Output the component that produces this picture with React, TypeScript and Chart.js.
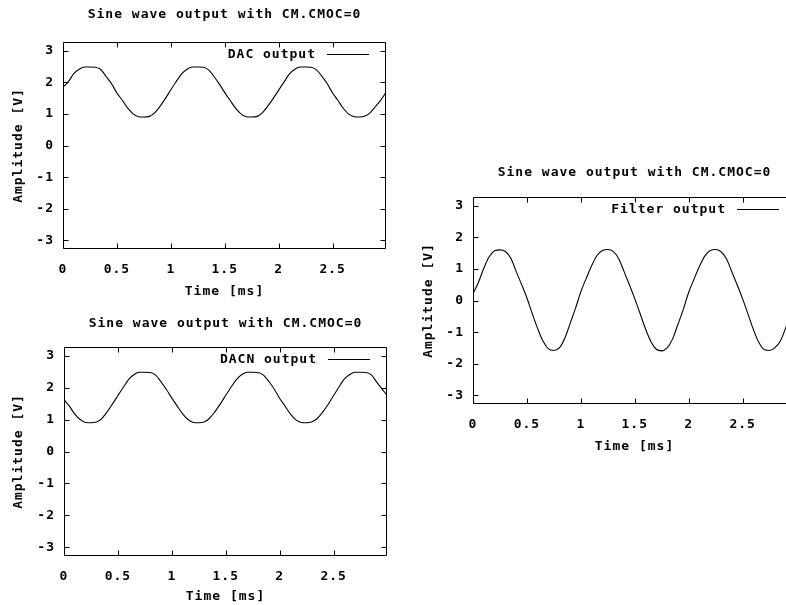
import React, { useEffect, useRef } from "react";
import { Chart, registerables } from "chart.js";

Chart.register(...registerables);

// ---------- data ----------
const TIME_MS = [
  0, 0.05, 0.1, 0.15, 0.2, 0.25, 0.3, 0.35, 0.4, 0.45,
  0.5, 0.55, 0.6, 0.65, 0.7, 0.75, 0.8, 0.85, 0.9, 0.95,
  1, 1.05, 1.1, 1.15, 1.2, 1.25, 1.3, 1.35, 1.4, 1.45,
  1.5, 1.55, 1.6, 1.65, 1.7, 1.75, 1.8, 1.85, 1.9, 1.95,
  2, 2.05, 2.1, 2.15, 2.2, 2.25, 2.3, 2.35, 2.4, 2.45,
  2.5, 2.55, 2.6, 2.65, 2.7, 2.75, 2.8, 2.85, 2.9, 2.95,
  2.995,
];

const DAC_OUTPUT = [
  1.84, 2.02, 2.27, 2.41, 2.48, 2.48, 2.47, 2.40, 2.18, 1.95,
  1.66, 1.43, 1.18, 1.00, 0.91, 0.90, 0.92, 1.03, 1.24, 1.49,
  1.76, 2.02, 2.26, 2.41, 2.48, 2.48, 2.47, 2.39, 2.18, 1.94,
  1.67, 1.42, 1.18, 1.00, 0.91, 0.90, 0.92, 1.04, 1.25, 1.49,
  1.75, 2.01, 2.26, 2.41, 2.48, 2.48, 2.47, 2.39, 2.19, 1.95,
  1.66, 1.42, 1.17, 0.99, 0.91, 0.90, 0.93, 1.04, 1.24, 1.45,
  1.68,
];

const DACN_OUTPUT = [
  1.62, 1.42, 1.17, 1.00, 0.91, 0.90, 0.92, 1.03, 1.24, 1.49,
  1.75, 2.01, 2.26, 2.41, 2.48, 2.48, 2.47, 2.39, 2.18, 1.94,
  1.67, 1.42, 1.18, 1.00, 0.91, 0.90, 0.92, 1.04, 1.25, 1.49,
  1.76, 2.02, 2.26, 2.41, 2.48, 2.48, 2.47, 2.39, 2.19, 1.95,
  1.66, 1.42, 1.17, 0.99, 0.91, 0.90, 0.93, 1.04, 1.24, 1.48,
  1.75, 2.02, 2.27, 2.41, 2.48, 2.48, 2.47, 2.40, 2.17, 1.95,
  1.76,
];

const FILTER_OUTPUT = [
  0.22, 0.57, 1.02, 1.38, 1.57, 1.60, 1.55, 1.34, 0.92, 0.51,
  0.08, -0.42, -0.89, -1.29, -1.53, -1.58, -1.50, -1.20, -0.73, -0.25,
  0.28, 0.70, 1.10, 1.42, 1.58, 1.61, 1.55, 1.33, 0.92, 0.50,
  0.06, -0.42, -0.90, -1.30, -1.54, -1.59, -1.50, -1.22, -0.76, -0.28,
  0.26, 0.68, 1.08, 1.41, 1.58, 1.61, 1.54, 1.32, 0.91, 0.49,
  0.05, -0.43, -0.92, -1.32, -1.55, -1.58, -1.49, -1.28, -0.86, -0.34,
  0.15,
];

const X_TICKS = [0, 0.5, 1, 1.5, 2, 2.5];
const Y_TICKS = [-3, -2, -1, 0, 1, 2, 3];
const X_RANGE = [0, 2.995];
const Y_RANGE = [-3.27, 3.27];

const CHART_TITLE = "Sine wave output with CM.CMOC=0";
const X_TITLE = "Time [ms]";
const Y_TITLE = "Amplitude [V]";
const LABEL_DAC = "DAC output";
const LABEL_DACN = "DACN output";
const LABEL_FILTER = "Filter output";

// ---------- styling ----------
const FAMILY = "'DejaVu Sans Mono', 'Liberation Mono', monospace";
const FONT = { family: FAMILY, size: 13, weight: "bold" as const };
const FONT_CSS = `bold 13px ${FAMILY}`;
const SPACING = "1px";

type Area = { l: number; t: number; r: number; b: number };

type PanelProps = {
  left: number;
  top: number;
  width: number;
  height: number;
  area: Area;
  titleY: number;
  label: string;
  values: number[];
};

function Panel({ left, top, width, height, area, titleY, label, values }: PanelProps) {
  const ref = useRef<HTMLCanvasElement | null>(null);

  useEffect(() => {
    const canvas = ref.current;
    if (!canvas) return;

    const gp = {
      id: "gnuplotLook",
      beforeUpdate(chart: any) {
        chart.ctx.letterSpacing = SPACING;
      },
      beforeLayout(chart: any) {
        chart.ctx.letterSpacing = SPACING;
      },
      beforeDraw(chart: any) {
        chart.ctx.letterSpacing = SPACING;
      },
      afterDraw(chart: any) {
        const ctx = chart.ctx as CanvasRenderingContext2D;
        const a = chart.chartArea;
        const xs = chart.scales.x;
        const ys = chart.scales.y;
        const L = Math.round(a.left) + 0.5;
        const R = Math.round(a.right) - 0.5;
        const T = Math.round(a.top) + 0.5;
        const B = Math.round(a.bottom) - 0.5;
        ctx.save();
        (ctx as any).letterSpacing = SPACING;
        ctx.strokeStyle = "#000";
        ctx.lineWidth = 1;
        ctx.beginPath();
        ctx.rect(L, T, R - L, B - T);
        const tl = 5;
        X_TICKS.forEach((v) => {
          const px = Math.round(xs.getPixelForValue(v)) + 0.5;
          ctx.moveTo(px, B);
          ctx.lineTo(px, B - tl);
          ctx.moveTo(px, T);
          ctx.lineTo(px, T + tl);
        });
        Y_TICKS.forEach((v) => {
          const py = Math.round(ys.getPixelForValue(v)) + 0.5;
          ctx.moveTo(L, py);
          ctx.lineTo(L + tl, py);
          ctx.moveTo(R, py);
          ctx.lineTo(R - tl, py);
        });
        ctx.stroke();

        // title
        ctx.fillStyle = "#000";
        ctx.font = FONT_CSS;
        ctx.textAlign = "center";
        ctx.textBaseline = "middle";
        ctx.fillText(CHART_TITLE, (a.left + a.right) / 2, titleY);

        // key (legend) inside top-right
        const ky = Math.round(a.top + 12) + 0.5;
        ctx.textAlign = "right";
        ctx.fillText(label, a.right - 70, ky);
        ctx.beginPath();
        ctx.moveTo(a.right - 59, ky);
        ctx.lineTo(a.right - 17, ky);
        ctx.strokeStyle = "#000";
        ctx.stroke();
        ctx.restore();
      },
    };

    const chart = new Chart(canvas, {
      type: "line",
      data: {
        datasets: [
          {
            label,
            data: TIME_MS.map((t, i) => ({ x: t, y: values[i] })),
            borderColor: "#000",
            borderWidth: 1.1,
            pointRadius: 0,
            fill: false,
            cubicInterpolationMode: "monotone",
          },
        ],
      },
      options: {
        animation: false,
        responsive: false,
        devicePixelRatio: 1,
        events: [],
        layout: {
          padding: { left: 0, top: area.t, right: width - area.r, bottom: 0 },
        },
        plugins: {
          legend: { display: false },
          tooltip: { enabled: false },
          title: { display: false },
        },
        scales: {
          x: {
            type: "linear",
            min: X_RANGE[0],
            max: X_RANGE[1],
            grid: { display: false, drawTicks: false },
            border: { display: false },
            afterBuildTicks: (s: any) => {
              s.ticks = X_TICKS.map((v) => ({ value: v }));
            },
            afterFit: (s: any) => {
              s.height = height - area.b;
            },
            ticks: {
              padding: 13,
              color: "#000",
              font: FONT,
              maxRotation: 0,
              autoSkip: false,
              callback: (v: any) => String(v),
            },
            title: {
              display: true,
              text: X_TITLE,
              color: "#000",
              font: FONT,
              padding: { top: 0, bottom: 1 },
            },
          },
          y: {
            type: "linear",
            min: Y_RANGE[0],
            max: Y_RANGE[1],
            grid: { display: false, drawTicks: false },
            border: { display: false },
            afterBuildTicks: (s: any) => {
              s.ticks = Y_TICKS.map((v) => ({ value: v }));
            },
            afterFit: (s: any) => {
              s.width = area.l;
            },
            ticks: {
              padding: 9,
              color: "#000",
              font: FONT,
              autoSkip: false,
              callback: (v: any) => String(v),
            },
            title: {
              display: true,
              text: Y_TITLE,
              color: "#000",
              font: FONT,
              padding: { top: 11, bottom: 0 },
            },
          },
        },
      },
      plugins: [gp],
    } as any);

    return () => chart.destroy();
  }, [left, top, width, height, area, titleY, label, values]);

  return (
    <canvas
      ref={ref}
      width={width}
      height={height}
      style={{ position: "absolute", left, top, width, height }}
    />
  );
}

const AREA_1: Area = { l: 63, t: 42, r: 386, b: 249 };
const AREA_2: Area = { l: 64, t: 47, r: 387, b: 256 };
const AREA_3: Area = { l: 63, t: 47, r: 386, b: 254 };

export default function App() {
  return (
    <div
      style={{
        position: "fixed",
        left: 0,
        top: 0,
        width: 786,
        height: 605,
        overflow: "hidden",
        background: "#fff",
      }}
    >
      <Panel left={0} top={0} width={400} height={300} area={AREA_1} titleY={15} label={LABEL_DAC} values={DAC_OUTPUT} />
      <Panel left={0} top={300} width={400} height={305} area={AREA_2} titleY={24} label={LABEL_DACN} values={DACN_OUTPUT} />
      <Panel left={410} top={150} width={400} height={305} area={AREA_3} titleY={22.5} label={LABEL_FILTER} values={FILTER_OUTPUT} />
    </div>
  );
}
